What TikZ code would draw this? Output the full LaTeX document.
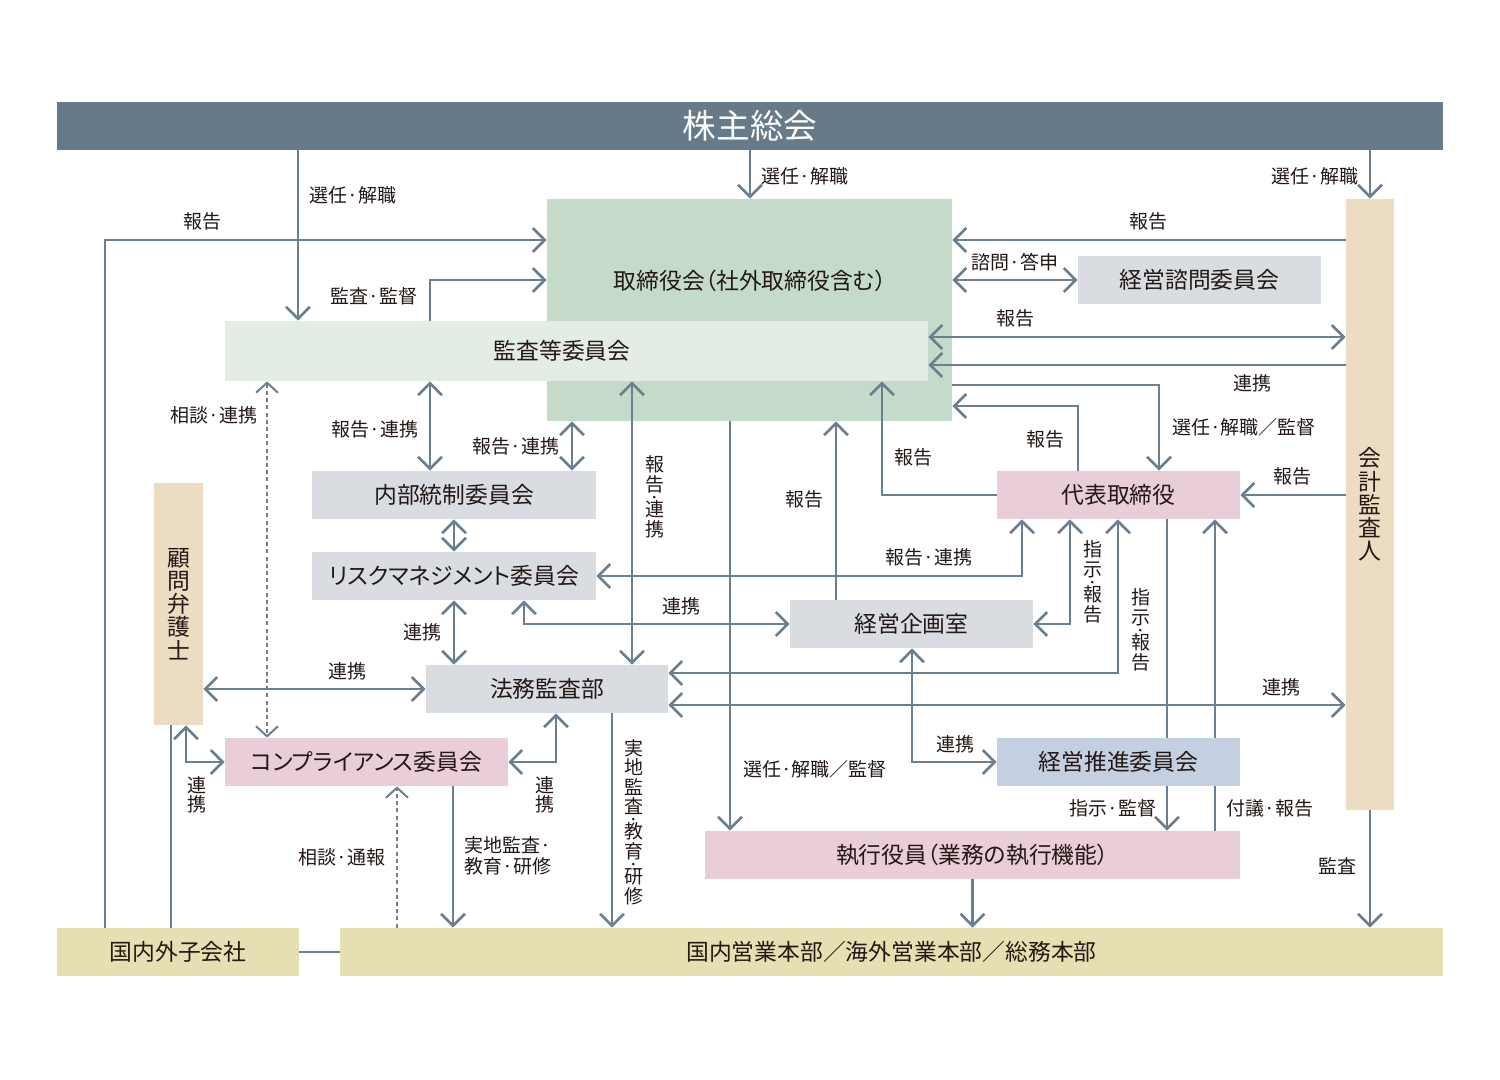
\documentclass[tikz,border=0pt]{standalone}
\usepackage{fontspec}
\setmainfont{Noto Sans CJK JP}[RawFeature=+palt]
\usetikzlibrary{arrows.meta}
\definecolor{lc}{HTML}{6A7F90}
\definecolor{barc}{HTML}{667A8A}
\definecolor{torc}{HTML}{C5DBC9}
\definecolor{kanc}{HTML}{E3EDE3}
\definecolor{grayc}{HTML}{D9DCE1}
\definecolor{pinkc}{HTML}{E9CDD8}
\definecolor{bluec}{HTML}{C4CFE1}
\definecolor{begc}{HTML}{ECDCC1}
\definecolor{khc}{HTML}{E4E0B1}
\definecolor{txt}{HTML}{231815}
\newcommand\lfnt{\fontsize{9.5pt}{9.75pt}\selectfont}
\newcommand\bfnt{\fontsize{11.4pt}{11.6pt}\selectfont}
\newcommand\tfnt{\fontsize{16.8pt}{18pt}\selectfont}
\newcommand\vd{\\[-3.4pt]·\\[-3.4pt]}
\begin{document}
\begin{tikzpicture}[x=0.5pt,y=-0.5pt,
  >={Straight Barb[length=6pt,width=12pt]},
  box/.style={inner sep=0pt, minimum height=24pt, font=\bfnt, text=txt},
  bl/.style={inner sep=0pt, font=\bfnt, text=txt},
  lbl/.style={inner sep=0pt, font=\lfnt, text=txt},
  vl/.style={lbl, align=center},
  ln/.style={draw=lc, line width=1.3pt},
  dl/.style={draw=lc, line width=1pt, dash pattern=on 2pt off 1.6pt,
    >={Straight Barb[length=5pt,width=11pt]}}]
\useasboundingbox (0,0) rectangle (1500,1080);
% boxes
\node[box, fill=barc, minimum width=693pt, text=white, font=\tfnt] (bar) at (750,126) {株主総会};
\node[box, fill=torc, minimum width=202.5pt, minimum height=111pt] (tori) at (749.5,310) {};
\node[box, fill=kanc, minimum width=351.5pt, minimum height=30pt] (kansa) at (576.5,351) {};
\node[bl] (toriT) at (750,281) {取締役会（社外取締役含む）};
\node[bl] (kansaT) at (562,351) {監査等委員会};
\node[box, fill=grayc, minimum width=121.5pt] (shimon) at (1199.5,280) {経営諮問委員会};
\node[box, fill=begc, minimum width=24pt, minimum height=305.5pt, align=center] (kaikei) at (1370,504.5) {会\\計\\監\\査\\人};
\node[box, fill=begc, minimum width=24.5pt, minimum height=121pt, align=center] (komon) at (178.5,604) {顧\\問\\弁\\護\\士};
\node[box, fill=grayc, minimum width=142pt] (naibu) at (454,495) {内部統制委員会};
\node[box, fill=grayc, minimum width=142pt] (risk) at (454,576) {リスクマネジメント委員会};
\node[box, fill=grayc, minimum width=121pt] (houmu) at (547,689) {法務監査部};
\node[box, fill=grayc, minimum width=121.5pt] (kikaku) at (911.5,624) {経営企画室};
\node[box, fill=pinkc, minimum width=121.5pt] (daihyo) at (1118.5,495) {代表取締役};
\node[box, fill=bluec, minimum width=121.5pt] (suishin) at (1118.5,762) {経営推進委員会};
\node[box, fill=pinkc, minimum width=141.5pt] (comp) at (366.5,762) {コンプライアンス委員会};
\node[box, fill=pinkc, minimum width=267.5pt] (shikko) at (972.5,855) {執行役員（業務の執行機能）};
\node[box, fill=khc, minimum width=121pt] (kogaisha) at (178,952) {国内外子会社};
\node[box, fill=khc, minimum width=551.5pt] (honbu) at (891.5,952) {国内営業本部／海外営業本部／総務本部};
% connectors
\draw[ln,->] (bar.south -| 298,0) -- (kansa.north -| 298,0);
\draw[ln,->] (bar.south -| 750,0) -- (tori.north -| 750,0);
\draw[ln,->] (bar.south -| kaikei.north) -- (kaikei.north);
\draw[ln,->] (kogaisha.north -| 105,0) -- (105,240) -- (tori.west |- 0,240);
\draw[ln,->] (kansa.north -| 430,0) -- (430,280) -- (tori.west |- 0,280);
\draw[ln,->] (kaikei.west |- 0,240) -- (tori.east |- 0,240);
\draw[ln,<->] (tori.east |- shimon.west) -- (shimon.west);
\draw[ln,<->] (kansa.east |- 0,337) -- (kaikei.west |- 0,337);
\draw[ln,->] (kaikei.west |- 0,365) -- (kansa.east |- 0,365);
\draw[ln,->] (tori.east |- 0,385) -- (1159,385) -- (daihyo.north -| 1159,0);
\draw[ln,->] (daihyo.north -| 1078,0) -- (1078,406) -- (tori.east |- 0,406);
\draw[ln,->] (kaikei.west |- daihyo.east) -- (daihyo.east);
\draw[ln,->] (daihyo.west) -- (882,495) -- (kansa.south -| 882,0);
\draw[ln,->] (kikaku.north -| 836,0) -- (tori.south -| 836,0);
\draw[ln,->] (tori.south -| 730,0) -- (shikko.north -| 730,0);
\draw[ln,<->] (kansa.south -| 632,0) -- (houmu.north -| 632,0);
\draw[ln,<->] (kansa.south -| 430,0) -- (naibu.north -| 430,0);
\draw[ln,<->] (tori.south -| 572,0) -- (naibu.north -| 572,0);
\draw[ln,<->] (naibu.south) -- (risk.north);
\draw[ln,<->] (daihyo.south -| 1022,0) -- (1022,576) -- (risk.east);
\draw[ln,<->] (risk.south -| 524,0) -- (524,624) -- (kikaku.west);
\draw[ln,<->] (daihyo.south -| 1070,0) -- (1070,624) -- (kikaku.east);
\draw[ln,<->] (daihyo.south -| 1118,0) -- (1118,673) -- (houmu.east |- 0,673);
\draw[ln,<->] (risk.south) -- (houmu.north -| risk.south);
\draw[ln,<->] (komon.east |- houmu.west) -- (houmu.west);
\draw[ln,<->] (houmu.east |- 0,705) -- (kaikei.west |- 0,705);
\draw[ln,<->] (kikaku.south -| 912,0) -- (912,762) -- (suishin.west);
\draw[ln] (daihyo.south -| 1167,0) -- (suishin.north -| 1167,0);
\draw[ln,->] (suishin.south -| 1167,0) -- (shikko.north -| 1167,0);
\draw[ln] (shikko.north -| 1215,0) -- (suishin.south -| 1215,0);
\draw[ln,->] (suishin.north -| 1215,0) -- (daihyo.south -| 1215,0);
\draw[ln,->] (kaikei.south) -- (honbu.north -| kaikei.south);
\draw[ln,->] (shikko.south) -- (honbu.north -| shikko.south);
\draw[ln,->] (houmu.south -| 612,0) -- (honbu.north -| 612,0);
\draw[ln,->] (comp.south -| 453,0) -- (honbu.north -| 453,0);
\draw[dl,->] (honbu.north -| 397,0) -- (comp.south -| 397,0);
\draw[dl,<->] (kansa.south -| 267,0) -- (comp.north -| 267,0);
\draw[ln,<->] (komon.south -| 186,0) -- (186,762) -- (comp.west);
\draw[ln,<->] (comp.east) -- (556,762) -- (houmu.south -| 556,0);
\draw[ln] (kogaisha.north -| 171,0) -- (komon.south -| 171,0);
\draw[ln] (kogaisha.east) -- (honbu.west);
% labels
\node[lbl] (t1) at (353,195) {選任·解職};
\node[lbl] (t2) at (805,176) {選任·解職};
\node[lbl] (t3) at (1315,176) {選任·解職};
\node[lbl] (t4) at (202,221) {報告};
\node[lbl] (t5) at (374,296) {監査·監督};
\node[lbl] (t6) at (1148,221) {報告};
\node[lbl] (t7) at (1015,262) {諮問·答申};
\node[lbl] (t8) at (1015,318) {報告};
\node[lbl] (t9) at (1252,383) {連携};
\node[lbl] (t10) at (1244,427) {選任·解職／監督};
\node[lbl] (t11) at (1045,439) {報告};
\node[lbl] (t12) at (1292,476) {報告};
\node[lbl] (t13) at (913,457) {報告};
\node[lbl] (t14) at (804,499) {報告};
\node[lbl] (t15) at (214,415) {相談·連携};
\node[lbl] (t16) at (375,429) {報告·連携};
\node[lbl] (t17) at (516,446) {報告·連携};
\node[vl] (t18) at (655,497) {報\\告\vd 連\\携};
\node[lbl] (t19) at (929,557) {報告·連携};
\node[lbl] (t20) at (681,606) {連携};
\node[vl] (t21) at (1093,582) {指\\示\vd 報\\告};
\node[vl] (t22) at (1141,630) {指\\示\vd 報\\告};
\node[lbl] (t23) at (422,632) {連携};
\node[lbl] (t24) at (347,671) {連携};
\node[lbl] (t25) at (1281,687) {連携};
\node[lbl] (t26) at (955,744) {連携};
\node[lbl] (t27) at (815,769) {選任·解職／監督};
\node[lbl] (t28) at (1113,808) {指示·監督};
\node[lbl] (t29) at (1270,808) {付議·報告};
\node[lbl] (t30) at (1337,866) {監査};
\node[vl] (t31) at (634,822) {実\\地\\監\\査\vd 教\\育\vd 研\\修};
\node[lbl, align=left] (t32) at (508,856) {実地監査·\\[1pt]教育·研修};
\node[lbl] (t33) at (342,857) {相談·通報};
\node[vl] (t34) at (197,795) {連\\携};
\node[vl] (t35) at (545,795) {連\\携};
\end{tikzpicture}
\end{document}
